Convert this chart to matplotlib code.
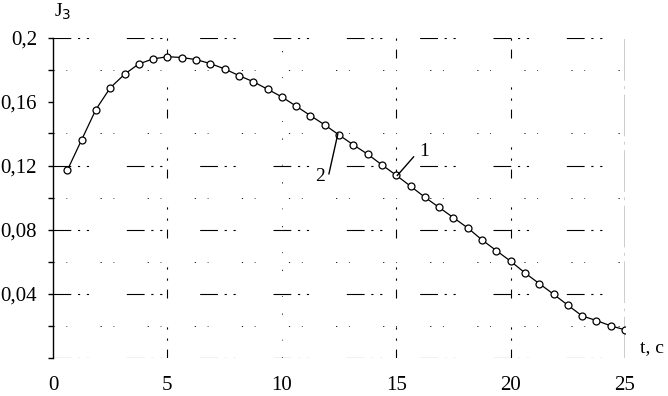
import numpy as np
import matplotlib
matplotlib.use("Agg")
import matplotlib.pyplot as plt

# data: t (s) and J3
t = [0.625 * k for k in range(1, 41)]
j3 = [0.117, 0.136, 0.155, 0.1685, 0.177, 0.1835, 0.1866, 0.188, 0.1875, 0.1862,
      0.1837, 0.1804, 0.1762, 0.1724, 0.1677, 0.1629, 0.1571, 0.1512, 0.1454, 0.1391,
      0.1329, 0.1271, 0.1204, 0.1139, 0.1071, 0.1002, 0.0938, 0.0874, 0.081, 0.0735,
      0.0668, 0.0602, 0.0529, 0.0462, 0.0396, 0.0327, 0.026, 0.0231, 0.0198, 0.0173]

xticks = [0, 5, 10, 15, 20, 25]
yticks = [0.04, 0.08, 0.12, 0.16, 0.2]
ytick_labels = ["0,04", "0,08", "0,12", "0,16", "0,2"]

plt.rcParams['font.family'] = ['Liberation Serif', 'DejaVu Serif']

fig = plt.figure(figsize=(6.68, 3.96), dpi=100)
ax = fig.add_axes([53/668, (396-357.5)/396, 572/668, 320/396])
ax.set_xlim(0, 25)
ax.set_ylim(0, 0.2)

# sparse broken dash-dot grid like the scanned original
gstyle = dict(color='black', lw=0.8, linestyle=(0, (16, 6, 2, 6, 2, 34)), zorder=1)
for yv in [0.2, 0.12, 0.08, 0.04, 0.0]:
    ax.axhline(yv, **gstyle)
lstyle = dict(color='black', lw=0.6, linestyle=(0, (1.5, 14, 1, 40)), zorder=1)
for yv in [0.18, 0.14, 0.10, 0.06, 0.02]:
    ax.axhline(yv, **lstyle)
vstyle = dict(color='black', lw=0.8, linestyle=(0, (8, 8, 2, 8, 2, 26)), zorder=1)
for xv in [5, 15, 20]:
    ax.axvline(xv, **vstyle)
ax.axvline(10, color='black', lw=0.6, linestyle=(0, (1.5, 20, 1, 30)), zorder=1)
ax.axvline(25, color='black', lw=1.0, linestyle=(0, (30, 4, 2, 4)), zorder=1)

ax.plot(t, j3, color='black', lw=0.9, marker='o', markersize=5,
        markerfacecolor='white', markeredgecolor='black', markeredgewidth=0.9, zorder=3)

for s in ['top', 'right', 'bottom']:
    ax.spines[s].set_visible(False)
ax.spines['left'].set_linewidth(1.0)

ax.set_yticks(np.arange(0.0, 0.201, 0.02), minor=False)
ylabels = []
for v in np.arange(0.0, 0.201, 0.02):
    lab = ""
    for yt, yl in zip(yticks, ytick_labels):
        if abs(v - yt) < 1e-6:
            lab = yl
    ylabels.append(lab)
ax.set_yticklabels(ylabels, fontsize=15)
ax.tick_params(axis='y', direction='out', length=3.6, width=1, pad=8)
ax.set_xticks(xticks)
ax.set_xticklabels([str(x) for x in xticks], fontsize=15)
ax.tick_params(axis='x', length=0, pad=13)

ax.text(0.05, 0.2095, r"J$_3$", fontsize=14, ha='left', va='bottom', clip_on=False)
ax.text(25.65, 0.0065, "t, c", fontsize=14, ha='left', va='center', clip_on=False)

# curve labels
ax.plot([15.05, 15.76], [0.1138, 0.1254], color='black', lw=1.0, zorder=4)
ax.text(16.0, 0.129, "1", fontsize=14, ha='left', va='center')
ax.plot([12.06, 12.45], [0.1148, 0.1398], color='black', lw=1.0, zorder=4)
ax.text(11.9, 0.113, "2", fontsize=14, ha='right', va='center')

fig.savefig("out.png", dpi=100, facecolor='white')
